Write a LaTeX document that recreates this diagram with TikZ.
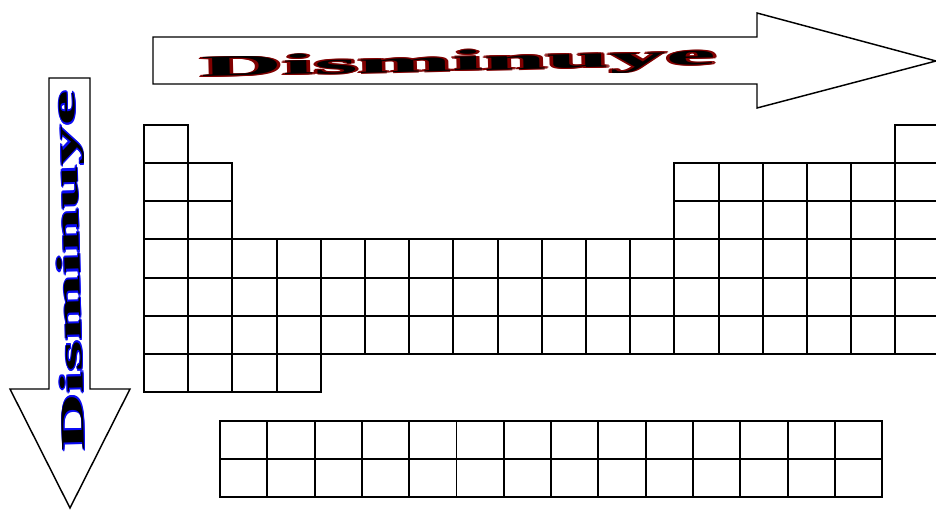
\documentclass[tikz,border=0pt]{standalone}
\usepackage{fontspec}
\setmainfont{Liberation Serif}
\usetikzlibrary{positioning}
\definecolor{granate}{RGB}{128,0,0}
\definecolor{azulborde}{RGB}{10,10,245}

\begin{document}
\begin{tikzpicture}[x=0.75pt,y=-0.75pt,
  celda/.style={draw, line width=1.45pt},
  flecha/.style={draw, line width=1.1pt, fill=white, line join=miter},
  rotuloH/.style={font=\bfseries\fontsize{21.75}{24}\selectfont, inner sep=0pt,
    anchor=base west, rotate=1.4, xscale=3.9},
  rotuloV/.style={font=\bfseries\fontsize{25}{28}\selectfont, inner sep=0pt,
    anchor=base west, rotate=91.6, xscale=2.37}
]
  \useasboundingbox (0,0) rectangle (936,510);

  % Flechas
  \draw[flecha] (153,37) -- (757,37) -- (757,13) -- (936,61) -- (757,108)
    -- (757,84) -- (153,84) -- cycle;
  \draw[flecha] (49,78) -- (90,78) -- (90,389) -- (130,389) -- (70,508)
    -- (10,389) -- (49,389) -- cycle;

  % Textos con borde
  \coordinate (baseH) at (200,77);
  \coordinate (baseV) at (85,451);
  \foreach \dx/\dy [count=\i] in {-0.7/0,0.7/0,0/-0.7,0/0.7,-0.5/-0.5,0.5/0.5,-0.5/0.5,0.5/-0.5} {
    \node[rotuloH, text=granate, xshift=\dx pt, yshift=\dy pt] (bordeH\i) at (baseH) {Disminuye};
    \node[rotuloV, text=azulborde, xshift=\dx pt, yshift=\dy pt] (bordeV\i) at (baseV) {Disminuye};
  }
  \node[rotuloH, text=black] (textoH) at (baseH) {Disminuye};
  \node[rotuloV, text=black] (textoV) at (baseV) {Disminuye};

  % Tabla principal
  \foreach \f/\desde/\hasta in {1/1/1,1/18/18,2/1/2,2/13/18,3/1/2,3/13/18,
                                4/1/18,5/1/18,6/1/18,7/1/4}
    \foreach \c in {\desde,...,\hasta}
      \draw[celda] ({144+44.2*(\c-1)},{125+38.14*(\f-1)}) rectangle ++(44.2,38.14);

  % Lantanidos y actinidos
  \foreach \f in {1,2}
    \foreach \c in {1,...,14}
      \draw[celda] ({220+47.3*(\c-1)},{421+38*(\f-1)}) rectangle ++(47.3,38);
\end{tikzpicture}
\end{document}
